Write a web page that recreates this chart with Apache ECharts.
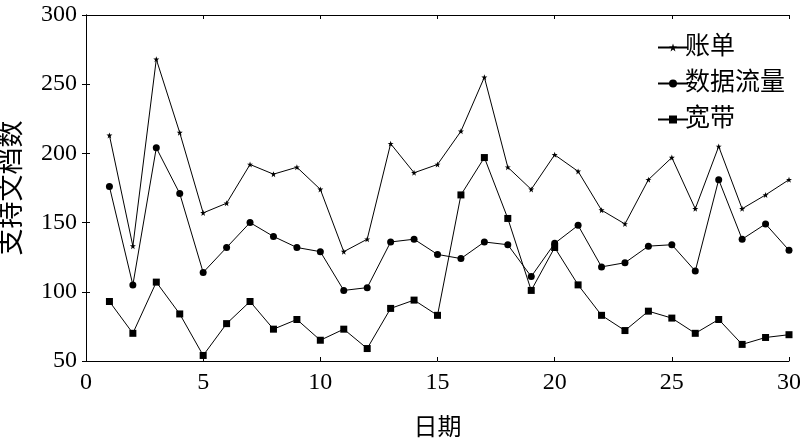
<!DOCTYPE html>
<html><head><meta charset="utf-8">
<script src="https://cdn.jsdelivr.net/npm/echarts@6/dist/echarts.min.js"></script>
<style>html,body{margin:0;padding:0;background:#fff}#c{width:800px;height:442px}</style>
</head><body><div id="c"></div>
<script>
const days = Array.from({length:30},(_, i)=>i+1);
const billing = [213,133,268,215,157,164,192,185,190,174,129,138,207,186,192,216,255,190,174,199,187,159,149,181,197,160,205,160,170,181];
const traffic = [176,105,204,171,114,132,150,140,132,129,101,103,136,138,127,124,136,134,111,135,148,118,121,133,134,115,181,138,149,130];
const broadband = [93,70,107,84,54,77,93,73,80,65,73,59,88,94,83,170,197,153,101,132,105,83,72,86,81,70,80,62,67,69];
const xTicks = [0,5,10,15,20,25,30];
const yTicks = [50,100,150,200,250,300];
const names = ['账单','数据流量','宽带'];

const font = '"Times New Roman","Liberation Serif","Noto Sans CJK SC",serif';
const pair = a => days.map((d,i)=>[d,a[i]]);
const chart = echarts.init(document.getElementById('c'));
const lineBase = {type:'line', lineStyle:{color:'#000',width:1}, itemStyle:{color:'#000'}, emphasis:{disabled:true}, animation:false};
chart.setOption({
  animation:false,
  grid:{left:86,right:11,top:15,bottom:81,containLabel:false,outerBoundsMode:'none'},
  legend:{
    orient:'vertical', left:652, top:30, itemGap:11, itemWidth:30, itemHeight:10,
    textStyle:{fontFamily:font,fontSize:25,color:'#000',padding:[0,0,0,-8]},
    data:names
  },
  xAxis:[{
    type:'value', min:xTicks[0], max:xTicks[xTicks.length-1], interval:5,
    name:'日期', nameLocation:'middle', nameGap:56,
    nameTextStyle:{fontFamily:font,fontSize:24,color:'#000'},
    axisLine:{lineStyle:{color:'#000',width:1}},
    axisTick:{inside:true,length:4,lineStyle:{color:'#000'}},
    axisLabel:{fontFamily:font,fontSize:24,color:'#000',margin:10},
    splitLine:{show:false}
  },{
    type:'value', position:'top', min:0, max:30, interval:5,
    axisLine:{lineStyle:{color:'#000',width:1}},
    axisTick:{inside:true,length:4,lineStyle:{color:'#000'}},
    axisLabel:{show:false}, splitLine:{show:false}
  }],
  yAxis:[{
    type:'value', min:yTicks[0], max:yTicks[yTicks.length-1], interval:50,
    name:'支持文档数', nameLocation:'middle', nameGap:60, nameRotate:90,
    nameTextStyle:{fontFamily:font,fontSize:27,color:'#000'},
    axisLine:{show:true,lineStyle:{color:'#000',width:1}},
    axisTick:{show:true,inside:true,length:4,lineStyle:{color:'#000'}},
    axisLabel:{fontFamily:font,fontSize:24,color:'#000',margin:9},
    splitLine:{show:false}
  },{
    type:'value', position:'right', min:50, max:300, interval:50,
    axisLine:{show:true,lineStyle:{color:'#000',width:1}},
    axisTick:{show:true,inside:true,length:4,lineStyle:{color:'#000'}},
    axisLabel:{show:false}, splitLine:{show:false}
  }],
  series:[
    Object.assign({}, lineBase, {name:names[0], data:pair(billing), symbol:'path://M0,-10L2.5,-3L10,-3L4,1.5L6,9L0,4.5L-6,9L-4,1.5L-10,-3L-2.5,-3Z', symbolSize:6}),
    Object.assign({}, lineBase, {name:names[1], data:pair(traffic), symbol:'circle', symbolSize:7}),
    Object.assign({}, lineBase, {name:names[2], data:pair(broadband), symbol:'rect', symbolSize:7})
  ]
});
</script></body></html>
